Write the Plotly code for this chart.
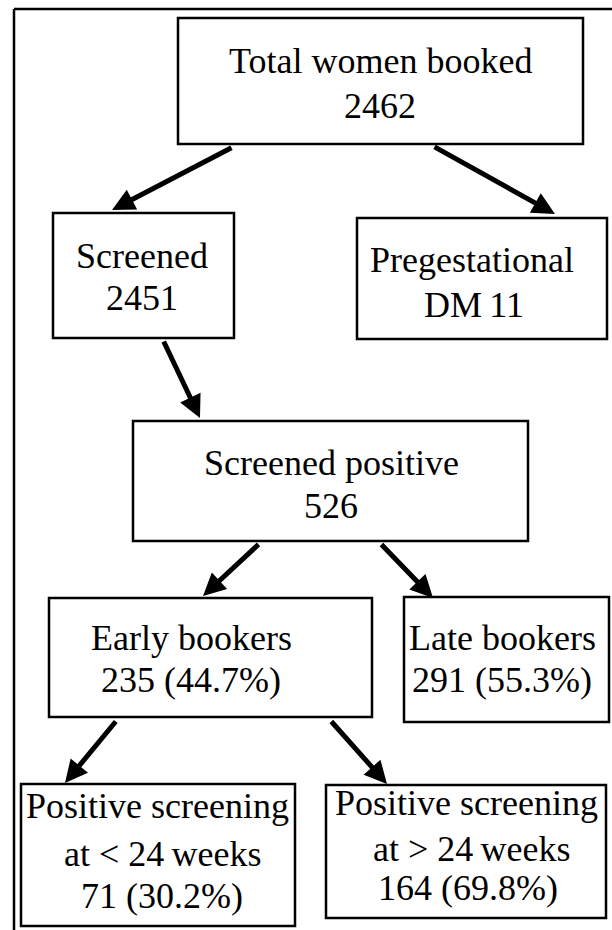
import plotly.graph_objects as go

# ---- data ----
node_titles = ["Total women booked", "Screened", "Pregestational", "Screened positive",
               "Early bookers", "Late bookers", "Positive screening", "Positive screening"]
node_subtitles = [None, None, None, None, None, None, "at < 24\u2009weeks", "at > 24\u2009weeks"]
node_counts = [2462, 2451, 11, 526, 235, 291, 71, 164]
node_pcts = [None, None, None, None, 44.7, 55.3, 30.2, 69.8]
node_prefix = ["", "", "DM\u200911", "", "", "", "", ""]
edges_from = [0, 0, 1, 3, 3, 4, 4]
edges_to = [1, 2, 3, 4, 5, 6, 7]

# ---- layout (pixel geometry) ----
W, H = 612, 930
boxes = [  # x0, y0, x1, y1
    (178, 18, 583, 144),
    (53, 213, 234, 338),
    (357, 218, 607, 339),
    (133, 421, 528, 541),
    (49, 598, 372, 717),
    (404, 597, 609, 722),
    (21, 784, 295, 926),
    (326, 785, 606, 918),
]
# text line positions: (center x, baseline y) per line
text_pos = [
    [(380, 73), (380, 118)],
    [(142, 268), (142, 310)],
    [(472, 272), (474, 317)],
    [(331, 475), (331, 518)],
    [(191, 650), (191, 692)],
    [(502, 650), (502, 692)],
    [(157, 818), (162, 866), (162, 908)],
    [(466, 815), (471, 861), (468, 900)],
]
arrows = [  # tail x, tail y, tip x, tip y
    (233, 147, 112, 210),
    (433, 146, 555, 214),
    (163, 340, 200, 418),
    (260, 543, 203, 596),
    (380, 543, 433, 598),
    (117, 720, 65, 783),
    (330, 720, 387, 784),
]

FONT = dict(family="Liberation Serif, Times New Roman, serif", size=36, color="black")


def lines_for(i):
    out = [node_titles[i]]
    if node_subtitles[i]:
        out.append(node_subtitles[i])
    if node_prefix[i]:
        out.append(node_prefix[i])
    elif node_pcts[i] is not None:
        out.append(f"{node_counts[i]} ({node_pcts[i]:.1f}%)")
    else:
        out.append(f"{node_counts[i]}")
    return out


fig = go.Figure()
fig.add_trace(go.Scatter(x=[0, W], y=[0, H], mode="markers",
                         marker=dict(opacity=0), hoverinfo="skip", showlegend=False))

shapes = []
# outer frame (left and top edges visible)
shapes.append(dict(type="line", x0=14, y0=9, x1=14, y1=H + 20, xref="x", yref="y",
                   line=dict(color="black", width=2.5)))
shapes.append(dict(type="line", x0=14, y0=9, x1=W + 20, y1=9, xref="x", yref="y",
                   line=dict(color="black", width=2.5)))
for (x0, y0, x1, y1) in boxes:
    shapes.append(dict(type="rect", x0=x0, y0=y0, x1=x1, y1=y1, xref="x", yref="y",
                       line=dict(color="black", width=2.5), fillcolor="rgba(0,0,0,0)"))

annotations = []
for i in range(len(node_titles)):
    for txt, (cx, by) in zip(lines_for(i), text_pos[i]):
        annotations.append(dict(x=cx, y=by - 12, text=txt, showarrow=False,
                                xref="x", yref="y", xanchor="center", yanchor="middle",
                                font=FONT))

for k, (f, t) in enumerate(zip(edges_from, edges_to)):
    tx, ty, hx, hy = arrows[k]
    annotations.append(dict(x=hx, y=hy, ax=tx, ay=ty, xref="x", yref="y",
                            axref="x", ayref="y", text="", showarrow=True,
                            arrowhead=2, arrowsize=0.9, arrowwidth=5,
                            arrowcolor="black", standoff=0, startstandoff=0))

fig.update_layout(
    width=W, height=H, margin=dict(l=0, r=0, t=0, b=0),
    paper_bgcolor="white", plot_bgcolor="white",
    xaxis=dict(range=[0, W], visible=False, fixedrange=True),
    yaxis=dict(range=[H, 0], visible=False, fixedrange=True),
    shapes=shapes, annotations=annotations, showlegend=False,
)
fig.write_html(
    "out.html",
    config={"displayModeBar": False, "staticPlot": True},
    post_script="document.body.style.margin='0px';"
                "document.documentElement.style.overflow='hidden';"
                "document.body.style.overflow='hidden';",
)
